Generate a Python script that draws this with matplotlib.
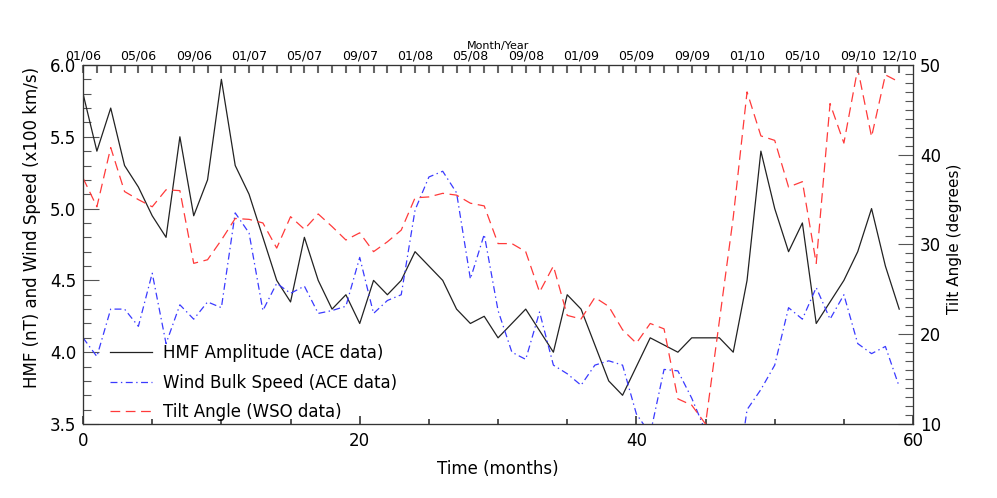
import numpy as np
import matplotlib
matplotlib.use('Agg')
import matplotlib.pyplot as plt
from matplotlib.ticker import MultipleLocator, FormatStrFormatter, FixedLocator

plt.rcParams['font.family'] = 'DejaVu Sans'
plt.rcParams['lines.scale_dashes'] = False

# monthly values, Jan 2006 .. Dec 2010
months = np.arange(60)
hmf = [5.80, 5.40, 5.70, 5.30, 5.15, 4.95, 4.80, 5.50, 4.95, 5.20,
       5.90, 5.30, 5.10, 4.80, 4.50, 4.35, 4.80, 4.50, 4.30, 4.40,
       4.20, 4.50, 4.40, 4.50, 4.70, 4.60, 4.50, 4.30, 4.20, 4.25,
       4.10, 4.20, 4.30, 4.15, 4.00, 4.40, 4.30, 4.05, 3.80, 3.70,
       3.90, 4.10, 4.05, 4.00, 4.10, 4.10, 4.10, 4.00, 4.50, 5.40,
       5.00, 4.70, 4.90, 4.20, 4.35, 4.50, 4.70, 5.00, 4.60, 4.30]
wind = [4.10, 3.97, 4.30, 4.30, 4.18, 4.55, 4.06, 4.33, 4.23, 4.35,
        4.31, 4.97, 4.83, 4.29, 4.48, 4.41, 4.46, 4.27, 4.29, 4.32,
        4.66, 4.27, 4.36, 4.40, 4.99, 5.22, 5.26, 5.11, 4.51, 4.82,
        4.29, 4.00, 3.95, 4.28, 3.91, 3.85, 3.77, 3.91, 3.94, 3.91,
        3.57, 3.43, 3.88, 3.87, 3.68, 3.45, 3.20, 2.93, 3.60, 3.74,
        3.91, 4.31, 4.23, 4.45, 4.23, 4.40, 4.06, 3.99, 4.04, 3.76]
tilt = [37.4, 34.2, 40.8, 35.9, 35.0, 34.2, 36.1, 36.0, 27.9, 28.3,
        30.5, 32.9, 32.8, 32.4, 29.6, 33.1, 31.7, 33.4, 32.0, 30.5,
        31.3, 29.2, 30.3, 31.6, 35.2, 35.3, 35.7, 35.5, 34.6, 34.3,
        30.1, 30.1, 29.2, 24.7, 27.6, 22.1, 21.7, 24.1, 23.1, 20.5,
        19.0, 21.2, 20.6, 12.8, 12.1, 10.0, 21.5, 33.0, 47.0, 42.1,
        41.6, 36.4, 37.0, 27.9, 45.7, 41.3, 49.6, 42.0, 48.9, 48.1]

top_tick_months = [0, 4, 8, 12, 16, 20, 24, 28, 32, 36, 40, 44, 48, 52, 56, 59]
top_tick_labels = ['01/06', '05/06', '09/06', '01/07', '05/07', '09/07',
                   '01/08', '05/08', '09/08', '01/09', '05/09', '09/09',
                   '01/10', '05/10', '09/10', '12/10']

fig = plt.figure(figsize=(9.97, 4.98), dpi=100)
ax = fig.add_axes([0.0833, 0.1486, 0.8325, 0.7209])

l1, = ax.plot(months, hmf, color='#222222', lw=0.9)
l2, = ax.plot(months, wind, color='#3a3aff', lw=0.9, dashes=(5, 2.5, 1, 2.5))
ax.set_xlim(0, 60)
ax.set_ylim(3.5, 6.0)

ax2 = ax.twinx()
l3, = ax2.plot(months, tilt, color='#ff3a3a', lw=0.9, dashes=(7, 4))
ax2.set_ylim(10, 50)

# bottom / left axes
ax.set_xticks([0, 20, 40, 60])
ax.xaxis.set_minor_locator(MultipleLocator(5))
ax.yaxis.set_major_locator(MultipleLocator(0.5))
ax.yaxis.set_minor_locator(MultipleLocator(0.1))
ax.yaxis.set_major_formatter(FormatStrFormatter('%.1f'))
ax.tick_params(axis='x', which='both', direction='in', top=False, labelsize=12,
               pad=6, color='#444444', width=1.3)
ax.tick_params(axis='x', which='major', length=5.5)
ax.tick_params(axis='x', which='minor', length=3.5)
ax.tick_params(axis='y', which='both', direction='in', right=False, labelsize=12,
               pad=5, color='#555555', width=0.8)
ax.tick_params(axis='y', which='major', length=11.5)
ax.tick_params(axis='y', which='minor', length=5.8)
ax.set_xlabel('Time (months)', fontsize=12, labelpad=7)
ax.set_ylabel('HMF (nT) and Wind Speed (x100 km/s)', fontsize=12)
ax.yaxis.set_label_coords(-0.0506, 0.547)

# right axis
ax2.yaxis.set_major_locator(MultipleLocator(10))
ax2.yaxis.set_minor_locator(MultipleLocator(1))
ax2.tick_params(axis='y', which='both', direction='in', labelsize=12, pad=5,
                color='#555555', width=0.8)
ax2.tick_params(axis='y', which='major', length=11)
ax2.tick_params(axis='y', which='minor', length=5.8)
ax2.set_ylabel('Tilt Angle (degrees)', fontsize=11)
ax2.yaxis.set_label_coords(1.041, 0.515)

# top month/year axis: labels as major ticks, every month as minor tick
ax3 = ax.twiny()
ax3.set_xlim(0, 60)
ax3.set_xticks(top_tick_months, top_tick_labels)
ax3.xaxis.set_minor_locator(FixedLocator(months))
ax3.tick_params(axis='x', which='both', top=True, bottom=False,
                direction='in', labelsize=9, pad=2, color='#666666', width=1.5)
ax3.tick_params(axis='x', which='major', length=6)
ax3.tick_params(axis='x', which='minor', length=6)
ax3.set_xlabel('Month/Year', fontsize=8, labelpad=0)

for a in (ax, ax2, ax3):
    for sp in a.spines.values():
        sp.set_color('#333333')
        sp.set_linewidth(0.8)

ax2.legend([l1, l2, l3],
           ['HMF Amplitude (ACE data)', 'Wind Bulk Speed (ACE data)',
            'Tilt Angle (WSO data)'],
           loc='upper left', bbox_to_anchor=(0.0325, 0.223), frameon=False,
           borderpad=0, borderaxespad=0, handlelength=2.5, handletextpad=0.65,
           labelspacing=0.7, fontsize=12)

fig.savefig('out.png', dpi=100)
